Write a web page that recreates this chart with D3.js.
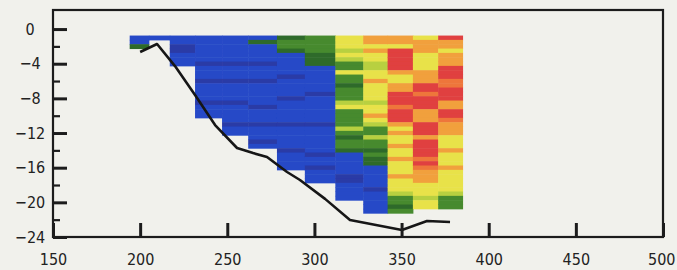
<!DOCTYPE html>
<html>
<head>
<meta charset="utf-8">
<script src="https://cdn.jsdelivr.net/npm/d3@7"></script>
<style>
  html, body { margin: 0; padding: 0; background: #f1f1ec; }
  svg { display: block; }
  .axis text { font-family: "DejaVu Sans Condensed", "DejaVu Sans", sans-serif; font-size: 16px; fill: #222; }
</style>
</head>
<body>
<div id="graph_plot"></div>
<script>
// x ticks / y ticks
var xTicks = [150, 200, 250, 300, 350, 400, 450, 500];
var yTicks = [0, -4, -8, -12, -16, -20, -24];
var yMinorTicks = [-2, -6, -10, -14, -18, -22];

// column edges along the section (x units)
var colEdges = [194, 205, 217, 231.5, 247, 262, 278.5, 294.5, 312, 328, 342, 356.5, 371, 385];

// depth of first cell top and cell height
var cellTop = -0.75;
var cellStep = 0.5;

// class values per column, top to bottom (1 = lowest ... 9 = highest)
var col1 = [2, 2, 3];
var col2 = [2];
var col3 = [2, 2, 1, 1, 2, 2, 2];
var col4 = [2, 2, 2, 2, 2, 2, 1, 2, 2, 2, 1, 2, 2, 2, 2, 1, 2, 2, 2];
var col5 = [2, 2, 2, 2, 2, 2, 1, 2, 2, 2, 1, 2, 2, 2, 2, 1, 2, 2, 2, 2, 1, 2, 2];
var col6 = [2, 3, 2, 2, 2, 2, 1, 2, 2, 2, 1, 2, 2, 2, 2, 2, 1, 2, 2, 2, 1, 2, 2, 2, 1, 2];
var col7 = [3, 4, 4, 3, 2, 2, 2, 2, 2, 1, 2, 2, 2, 2, 1, 2, 2, 2, 2, 2, 1, 2, 2, 2, 2, 2, 1, 2, 2, 2, 2];
var col8 = [4, 4, 4, 4, 3, 3, 3, 2, 2, 2, 2, 2, 2, 1, 2, 2, 2, 2, 2, 2, 1, 2, 2, 2, 2, 2, 2, 1, 2, 2, 1, 2, 2, 2];
var col9 = [6, 6, 6, 5, 6, 5, 4, 4, 6, 4, 4, 3, 4, 4, 4, 5, 6, 4, 4, 4, 4, 5, 4, 3, 4, 4, 3, 2, 2, 2, 2, 2, 1, 1, 2, 2, 2, 2];
var col10 = [7, 7, 6, 7, 6, 6, 5, 5, 6, 6, 7, 6, 6, 6, 6, 5, 6, 6, 7, 6, 5, 4, 4, 5, 4, 4, 3, 4, 3, 3, 2, 2, 2, 2, 2, 1, 2, 2, 2, 2, 2];
var col11 = [7, 7, 6, 9, 9, 9, 9, 9, 7, 6, 6, 7, 7, 9, 9, 9, 8, 9, 9, 9, 7, 6, 7, 6, 6, 7, 6, 6, 7, 6, 6, 6, 7, 6, 6, 6, 5, 4, 4, 3, 4];
var col12 = [6, 7, 7, 7, 6, 6, 6, 6, 7, 7, 7, 9, 9, 8, 9, 9, 9, 7, 7, 7, 9, 9, 9, 7, 9, 9, 9, 9, 8, 9, 8, 7, 7, 7, 6, 6, 6, 5, 6, 6];
var col13 = [9, 7, 7, 6, 7, 7, 7, 9, 9, 9, 8, 8, 9, 9, 9, 7, 7, 9, 9, 8, 7, 7, 7, 6, 6, 6, 7, 6, 6, 6, 7, 6, 6, 6, 6, 6, 5, 4, 4, 4];
var columns = [col1, col2, col3, col4, col5, col6, col7, col8, col9, col10, col11, col12, col13];

// bottom profile
var bottomX = [200, 209.7, 220, 231.5, 243, 255.6, 264.8, 272.8, 284.3, 291.7, 306.1, 320.4, 350.2, 364.6, 377.8];
var bottomY = [-2.65, -1.73, -4.27, -7.62, -11.08, -13.73, -14.31, -14.77, -16.5, -17.42, -19.6, -22.04, -23.19, -22.15, -22.27];

var classColors = ["#2b3aa6", "#2649c7", "#2f6a2b", "#468a2e", "#b8d040", "#e8e24a", "#f1a03c", "#ee763b", "#e0403f"];

var margin = { top: 10, right: 14, bottom: 33, left: 53 },
    width = 677 - margin.left - margin.right,
    height = 270 - margin.top - margin.bottom;

var svg = d3.select("#graph_plot").append("svg")
    .attr("width", 677)
    .attr("height", 270);

svg.append("rect").attr("width", 677).attr("height", 270).attr("fill", "#f1f1ec");

// soften cells a little, like the scanned original
svg.append("defs").append("filter")
    .attr("id", "soft")
    .append("feGaussianBlur")
    .attr("stdDeviation", 0.6);

var g = svg.append("g")
    .attr("transform", `translate(${margin.left},${margin.top})`);

var x = d3.scaleLinear().domain([150, 500]).range([0, width]);
var y = d3.scaleLinear().domain([-24, 2.2]).range([height, 0]);
var color = d3.scaleOrdinal().domain(d3.range(1, 10)).range(classColors);

// cells
var cells = [];
columns.forEach((vals, j) => {
    vals.forEach((v, i) => {
        cells.push({ x0: colEdges[j], x1: colEdges[j + 1], y0: cellTop - i * cellStep, y1: cellTop - (i + 1) * cellStep, v: v });
    });
});

g.append("g")
    .attr("filter", "url(#soft)")
    .selectAll("rect")
    .data(cells)
    .join("rect")
    .attr("x", d => x(d.x0))
    .attr("y", d => y(d.y0))
    .attr("width", d => x(d.x1) - x(d.x0) + 0.5)
    .attr("height", d => y(d.y1) - y(d.y0) + 0.5)
    .attr("fill", d => color(d.v));

// bottom line
var profile = bottomX.map((d, i) => [d, bottomY[i]]);
var valueLine = d3.line()
    .x(d => x(d[0]))
    .y(d => y(d[1]));

g.append("path")
    .datum(profile)
    .attr("fill", "none")
    .attr("stroke", "#161616")
    .attr("stroke-width", 2.6)
    .attr("stroke-linejoin", "round")
    .attr("d", valueLine);

// axes
var xAxis = g.append("g")
    .attr("class", "axis")
    .attr("transform", `translate(0,${height})`)
    .call(d3.axisBottom(x).tickValues(xTicks).tickSize(-14).tickPadding(17).tickFormat(d3.format("d")));
xAxis.select(".domain").remove();
xAxis.selectAll("line").attr("stroke", "#1c1c1c").attr("stroke-width", 3);
xAxis.selectAll("text").filter(d => d === 500).attr("text-anchor", "end").attr("x", 12);

var yAxis = g.append("g")
    .attr("class", "axis")
    .call(d3.axisLeft(y).tickValues(yTicks).tickSize(-14).tickPadding(6));
yAxis.select(".domain").remove();
yAxis.selectAll("line").attr("stroke", "#1c1c1c").attr("stroke-width", 3);
yAxis.selectAll("text").attr("text-anchor", "middle").attr("x", -23);

var yMinor = g.append("g")
    .call(d3.axisLeft(y).tickValues(yMinorTicks).tickSize(-7).tickFormat(""));
yMinor.select(".domain").remove();
yMinor.selectAll("line").attr("stroke", "#1c1c1c").attr("stroke-width", 2.2);

// frame
g.append("rect")
    .attr("x", 0)
    .attr("y", 0)
    .attr("width", width)
    .attr("height", height)
    .attr("fill", "none")
    .attr("stroke", "#1c1c1c")
    .attr("stroke-width", 2.2);
</script>
</body>
</html>
